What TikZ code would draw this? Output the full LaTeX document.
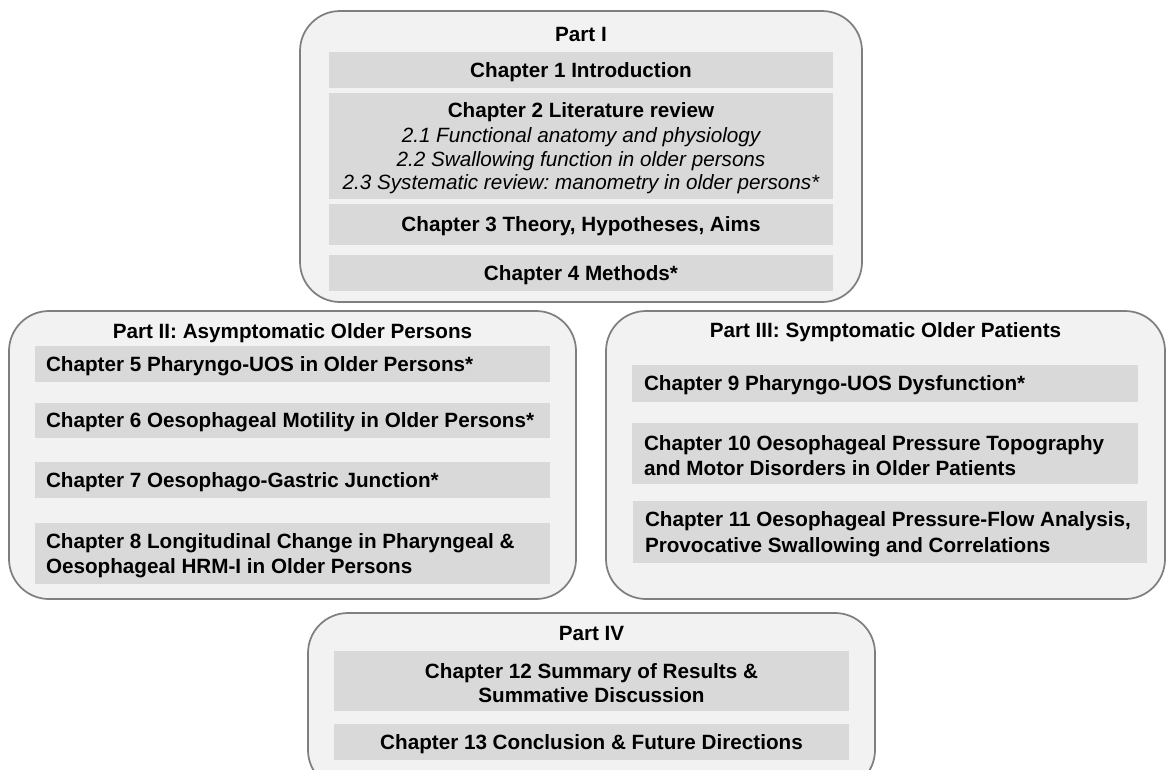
\documentclass[tikz,border=0pt]{standalone}
\usepackage{fontspec}
\setmainfont{Liberation Sans}
\frenchspacing
\definecolor{partfill}{HTML}{F2F2F2}
\definecolor{chapfill}{HTML}{D9D9D9}
\definecolor{partline}{HTML}{7F7F7F}
\begin{document}
\begin{tikzpicture}[x=0.75pt,y=-0.75pt,
  part/.style={draw=partline, fill=partfill, line width=1.3pt, rounded corners=30pt, inner sep=0pt},
  chap/.style={fill=chapfill, inner sep=0pt},
  ttl/.style={font=\fontsize{15.5}{17.6}\selectfont\bfseries, inner sep=0pt, anchor=base},
  ctxt/.style={font=\fontsize{15.5}{17.6}\selectfont\bfseries, inner sep=0pt, align=center},
  ltxt/.style={font=\fontsize{15.5}{19}\selectfont\bfseries, inner sep=0pt, align=left, anchor=west},
]
\useasboundingbox (0,0) rectangle (1166,769);
\clip (0,0) rectangle (1166,769);

% Part I
\node[part, minimum width=421.5pt, minimum height=218.25pt] (p1) at (581,156.5) {};
\node[ttl] (pt1) at (581,41.5) {Part I};
\node[chap, minimum width=378pt, minimum height=27pt] (c1) at (581,70) {};
\node[ctxt] (t1) at ([yshift=-1.6pt]c1.center) {Chapter 1 Introduction};
\node[chap, minimum width=378pt, minimum height=79.5pt] (c2) at (581,146) {};
\node[ctxt] (t2) at ([yshift=-1.6pt]c2.center) {Chapter 2 Literature review\\[1.6pt]
  {\mdseries\itshape 2.1 Functional anatomy and physiology}\\
  {\mdseries\itshape 2.2 Swallowing function in older persons}\\
  {\mdseries\itshape 2.3 Systematic review: manometry in older persons*}};
\node[chap, minimum width=378pt, minimum height=30.75pt] (c3) at (581,224.5) {};
\node[ctxt] (t3) at ([yshift=-1.6pt]c3.center) {Chapter 3 Theory, Hypotheses, Aims};
\node[chap, minimum width=378pt, minimum height=27pt] (c4) at (581,273) {};
\node[ctxt] (t4) at ([yshift=-1.6pt]c4.center) {Chapter 4 Methods*};

% Part II
\node[part, minimum width=425.25pt, minimum height=216pt] (p2) at (292.5,455) {};
\node[ttl] (pt2) at (292.5,338.3) {Part II: Asymptomatic Older Persons};
\node[chap, minimum width=386.25pt, minimum height=27pt] (c5) at (292.5,364) {};
\node[ltxt] (t5) at ([xshift=8.25pt,yshift=-1.6pt]c5.west) {Chapter 5 Pharyngo-UOS in Older Persons*};
\node[chap, minimum width=386.25pt, minimum height=26.25pt] (c6) at (292.5,420.5) {};
\node[ltxt] (t6) at ([xshift=8.25pt,yshift=-1.6pt]c6.west) {Chapter 6 Oesophageal Motility in Older Persons*};
\node[chap, minimum width=386.25pt, minimum height=27pt] (c7) at (292.5,480) {};
\node[ltxt] (t7) at ([xshift=8.25pt,yshift=-1.6pt]c7.west) {Chapter 7 Oesophago-Gastric Junction*};
\node[chap, minimum width=386.25pt, minimum height=45.75pt] (c8) at (292.5,553.5) {};
\node[ltxt] (t8) at ([xshift=8.25pt,yshift=-1.6pt]c8.west) {Chapter 8 Longitudinal Change in Pharyngeal \&\\Oesophageal HRM-I in Older Persons};

% Part III
\node[part, minimum width=419.25pt, minimum height=216pt] (p3) at (885.5,455) {};
\node[ttl] (pt3) at (885.5,337.5) {Part III: Symptomatic Older Patients};
\node[chap, minimum width=379.5pt, minimum height=27.75pt] (c9) at (885,383.5) {};
\node[ltxt] (t9) at ([xshift=9pt,yshift=-1.6pt]c9.west) {Chapter 9 Pharyngo-UOS Dysfunction*};
\node[chap, minimum width=379.5pt, minimum height=45.75pt] (c10) at (885,453.5) {};
\node[ltxt] (t10) at ([xshift=9pt,yshift=-1.6pt]c10.west) {Chapter 10 Oesophageal Pressure Topography\\and Motor Disorders in Older Patients};
\node[chap, minimum width=385.5pt, minimum height=46.5pt] (c11) at (890,532) {};
\node[ltxt] (t11) at ([xshift=9pt,yshift=-1.6pt]c11.west) {Chapter 11 Oesophageal Pressure-Flow Analysis,\\Provocative Swallowing and Correlations};

% Part IV
\node[part, minimum width=425.25pt, minimum height=132.75pt] (p4) at (591.5,701.5) {};
\node[ttl] (pt4) at (591.5,640) {Part IV};
\node[chap, minimum width=386.25pt, minimum height=45pt] (c12) at (591.5,681) {};
\node[ctxt, font=\fontsize{15.5}{18.5}\selectfont\bfseries] (t12) at ([yshift=-1.6pt]c12.center) {Chapter 12 Summary of Results \&\\Summative Discussion};
\node[chap, minimum width=386.25pt, minimum height=27pt] (c13) at (591.5,742) {};
\node[ctxt] (t13) at ([yshift=-1.6pt]c13.center) {Chapter 13 Conclusion \& Future Directions};
\end{tikzpicture}
\end{document}
